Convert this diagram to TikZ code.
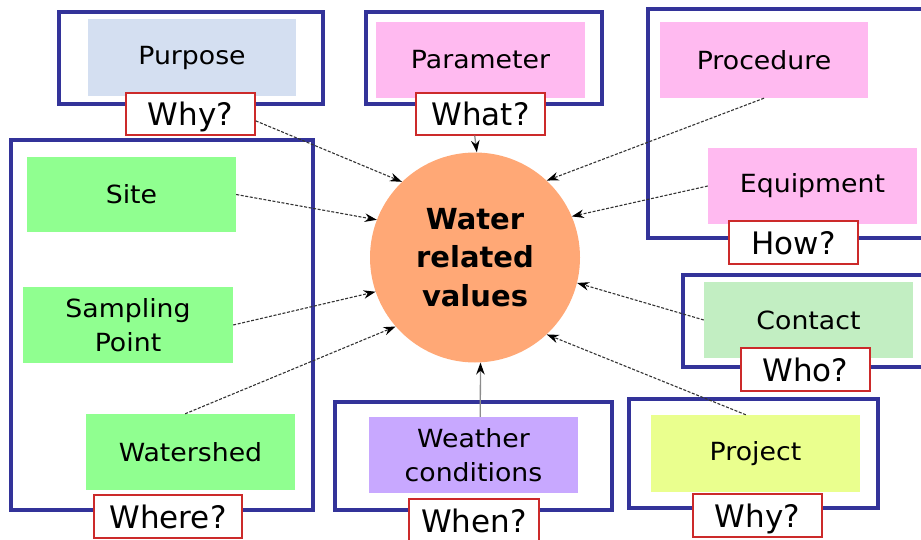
\documentclass[tikz,border=0pt]{standalone}
\usepackage{fontspec}
\setmainfont{DejaVu Sans}
\newfontfamily\boxfont{DejaVu Sans}[FakeStretch=1.07]
\usetikzlibrary{arrows.meta}
\definecolor{frameblue}{HTML}{333399}
\definecolor{labelred}{HTML}{CC2A2A}
\definecolor{linkgray}{HTML}{333333}
\definecolor{softgray}{HTML}{8C8C8C}
\definecolor{circleorange}{HTML}{FFA876}
\definecolor{bluegrey}{HTML}{D4DFF1}
\definecolor{pink}{HTML}{FFBAF0}
\definecolor{brightgreen}{HTML}{90FF90}
\definecolor{lilac}{HTML}{C8A8FF}
\definecolor{palegreen}{HTML}{C2EEC2}
\definecolor{lime}{HTML}{EAFF8E}
\begin{document}
\begin{tikzpicture}[x=1pt,y=-1pt,
  groupframe/.style={draw=frameblue,line width=3.2pt},
  item/.style={inner sep=0pt,align=center,minimum width=209pt,minimum height=76pt,
    font=\boxfont\fontsize{25}{34}\selectfont},
  qbox/.style={draw=labelred,fill=white,line width=1.3pt,inner sep=0pt,
    minimum width=129pt,minimum height=43pt,text depth=0pt,
    font=\fontsize{31}{31}\selectfont},
  link/.style={draw=linkgray,line width=1.1pt,dash pattern=on 3pt off 1.6pt,
    -{Stealth[length=12pt,width=8.5pt,color=black]}},
  plainlink/.style={draw=softgray,line width=1.3pt,
    -{Stealth[length=12pt,width=8.5pt,color=black]}}]
\clip (0,0) rectangle (921,540);

% group frames
\draw[groupframe] (59,12) rectangle (323,104);
\draw[groupframe] (366,12) rectangle (602,104);
\draw[groupframe] (648,9) rectangle (932,238);
\draw[groupframe] (11,140) rectangle (313,510);
\draw[groupframe] (335,402) rectangle (612,510);
\draw[groupframe] (683,275) rectangle (932,367);
\draw[groupframe] (629,399) rectangle (878,508);

% topic boxes
\node[item,fill=bluegrey,minimum width=208pt,minimum height=77pt] (purpose) at (192,57.5) {Purpose};
\node[item,fill=pink] (parameter) at (480.5,60) {Parameter};
\node[item,fill=pink,minimum width=208pt] (procedure) at (764,60) {Procedure};
\node[item,fill=pink] (equipment) at (812.5,186) {Equipment};
\node[item,fill=brightgreen,minimum height=75pt] (site) at (131.5,194.5) {Site};
\node[item,fill=brightgreen,minimum width=210pt] (sampling) at (128,325) {Sampling\\Point};
\node[item,fill=brightgreen] (watershed) at (190.5,452) {Watershed};
\node[item,fill=lilac] (weather) at (473.5,455) {Weather\\conditions};
\node[item,fill=palegreen] (contact) at (808.5,320) {Contact};
\node[item,fill=lime,minimum height=77pt] (project) at (755.5,453.5) {Project};

% question labels
\node[qbox,minimum height=42pt] (qwhy) at (190.5,114) {Why?};
\node[qbox,minimum height=42pt] (qwhat) at (480.5,114) {What?};
\node[qbox] (qhow) at (793.5,242.5) {How?};
\node[qbox] (qwho) at (805.5,369.5) {Who?};
\node[qbox,minimum width=148pt] (qwhere) at (168,516.5) {Where?};
\node[qbox,minimum width=130pt] (qwhen) at (474,520.5) {When?};
\node[qbox] (qwhy2) at (757.5,515.5) {Why?};

% central topic
\node[circle,fill=circleorange,minimum size=210pt,inner sep=0pt,align=center,
  font=\bfseries\fontsize{29}{38.5}\selectfont] (core) at (475,257.5) {Water\\related\\values};

% connectors
\draw[link] (qwhy.-6) -- (core.134);
\draw[link] (site.east) -- (core.159);
\draw[link] (sampling.east) -- (core.199);
\draw[link] (watershed.98) -- (core.221);
\draw[link] (procedure.south) -- (core.47);
\draw[link] (equipment.west) -- (core.23);
\draw[link] (contact.west) -- (core.-14);
\draw[link] (project.104) -- (core.-47);
\draw[plainlink] (weather.80) -- (core.-87);
\draw[plainlink] (qwhat.255) -- (core.89);
\end{tikzpicture}
\end{document}
